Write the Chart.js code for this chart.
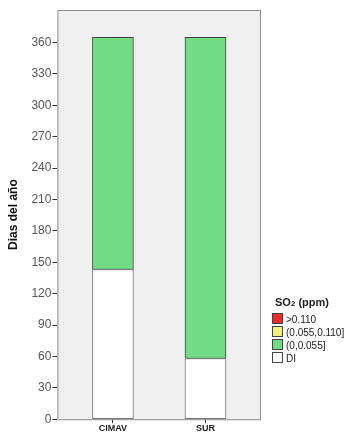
<!DOCTYPE html>
<html>
<head>
<meta charset="utf-8">
<script src="https://cdn.jsdelivr.net/npm/chart.js@4"></script>
<style>
  body { margin: 0; background: #fff; }
  #wrap { position: relative; width: 350px; height: 434px; }
  #legend { position: absolute; left: 272px; top: 296px; font-family: Arial, "Liberation Sans", sans-serif; color: #222; }
  #legend .title { font-weight: bold; font-size: 11px; margin-left: 3px; margin-bottom: 5px; }
  #legend .item { font-size: 10px; height: 13px; line-height: 13px; white-space: nowrap; }
  #legend .sw { display: inline-block; width: 9px; height: 9px; border: 1px solid #444; vertical-align: -1px; margin-right: 3px; }
</style>
</head>
<body>
<div id="wrap">
  <canvas id="chart" width="350" height="434"></canvas>
  <div id="legend"></div>
</div>
<script>
// Data
const stations = ["CIMAV", "SUR"];
const diDays = [143, 58];
const lowDays = [222, 307];
const midDays = [0, 0];
const highDays = [0, 0];
const yTicks = [0, 30, 60, 90, 120, 150, 180, 210, 240, 270, 300, 330, 360];

const seriesLabels = ["DI", "(0,0.055]", "(0.055,0.110]", ">0.110"];
const seriesColors = ["#ffffff", "#70dc84", "#f5f07a", "#f02a2a"];
const seriesValues = [diDays, lowDays, midDays, highDays];

// plot background + frame
const plotFrame = {
  id: "plotFrame",
  beforeDraw(chart) {
    const { ctx, chartArea: a } = chart;
    ctx.save();
    ctx.fillStyle = "#f0f0f0";
    ctx.fillRect(a.left, a.top, a.right - a.left, a.bottom - a.top);
    ctx.restore();
  },
  afterDraw(chart) {
    const { ctx, chartArea: a } = chart;
    ctx.save();
    ctx.strokeStyle = "#8a8a8a";
    ctx.lineWidth = 1;
    ctx.strokeRect(a.left + 0.5, a.top + 0.5, a.right - a.left - 1, a.bottom - a.top);
    ctx.restore();
  },
};

const canvas = document.getElementById("chart");
new Chart(canvas, {
  type: "bar",
  data: {
    labels: stations,
    datasets: seriesLabels.map((label, i) => ({
      label: label,
      data: seriesValues[i],
      backgroundColor: seriesColors[i],
      borderColor: i === 0 ? "#777" : "#444",
      borderWidth: (c) => (c.raw === 0 ? 0 : 1),
      borderSkipped: false,
      barThickness: 41,
    })),
  },
  options: {
    responsive: false,
    animation: false,
    layout: { padding: { top: 10, right: 89, bottom: 0, left: 6 } },
    plugins: {
      legend: { display: false },
      tooltip: { enabled: false },
    },
    scales: {
      x: {
        stacked: true,
        offset: false,
        // widen the category range so the bars sit where they do in the original
        afterBuildTicks: (axis) => {
          axis._startValue = -0.6;
          axis._valueRange = 2.2;
        },
        grid: { drawOnChartArea: false, tickLength: 4, color: "#333", offset: false },
        border: { display: false },
        ticks: {
          font: { family: "Arial, 'Liberation Sans', sans-serif", size: 9, weight: "bold" },
          color: "#222",
          padding: 0,
          maxRotation: 0,
        },
      },
      y: {
        stacked: true,
        min: 0,
        max: 391,
        afterBuildTicks: (axis) => {
          axis.ticks = yTicks.map((v) => ({ value: v }));
        },
        grid: { drawOnChartArea: false, tickLength: 5, color: "#333" },
        border: { display: false },
        ticks: {
          font: { family: "Arial, 'Liberation Sans', sans-serif", size: 12 },
          color: "#555",
          padding: 1,
        },
        title: {
          display: true,
          text: "Dias del año",
          font: { family: "Arial, 'Liberation Sans', sans-serif", size: 12, weight: "bold" },
          color: "#111",
          padding: { top: 0, bottom: 10 },
        },
      },
    },
  },
  plugins: [plotFrame],
});

// legend (top item = last stacked series)
const legend = document.getElementById("legend");
legend.innerHTML = '<div class="title">SO<sub style="font-size:8px;vertical-align:baseline">2</sub> (ppm)</div>';
for (let i = seriesLabels.length - 1; i >= 0; i--) {
  const item = document.createElement("div");
  item.className = "item";
  item.innerHTML = `<span class="sw" style="background:${seriesColors[i]}"></span>${seriesLabels[i]}`;
  legend.appendChild(item);
}
</script>
</body>
</html>
